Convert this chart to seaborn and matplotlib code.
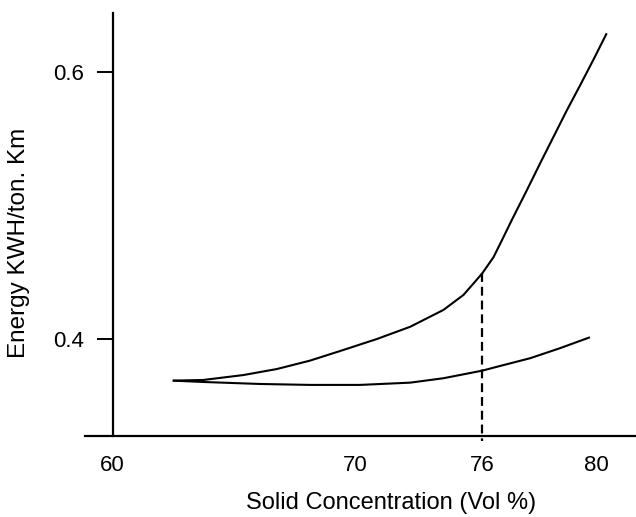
import numpy as np
import pandas as pd
import matplotlib
matplotlib.use("Agg")
import matplotlib.pyplot as plt
import seaborn as sns

# ---- data ----
upper_x = [62.48, 63.74, 65.40, 66.78, 68.15, 69.53, 71.04, 72.61, 74.17, 75.11,
           75.66, 76.00, 76.39, 76.68, 77.03, 77.56, 78.02, 78.49, 78.95, 79.42,
           79.88, 80.41]
upper_y = [0.3690, 0.3695, 0.3732, 0.3777, 0.3840, 0.3920, 0.4002, 0.4094, 0.4220,
           0.4332, 0.4432, 0.4495, 0.4615, 0.4740, 0.4894, 0.5119, 0.5319, 0.5519,
           0.5715, 0.5905, 0.6095, 0.6294]
lower_x = [62.48, 63.74, 66.09, 68.15, 70.25, 72.61, 74.17, 76.00, 76.62, 77.67,
           78.71, 79.76]
lower_y = [0.3690, 0.3680, 0.3665, 0.3658, 0.3658, 0.3675, 0.3708, 0.3765, 0.3800,
           0.3858, 0.3933, 0.4015]
marker_x = 76
marker_y = [0.4495, 0.3240]
x_ticks = [60, 70, 76, 80]
x_tick_labels = ["60", "70", "76", "80"]
y_ticks = [0.4, 0.6]
y_tick_labels = ["0.4", "0.6"]

# the original drawing's x axis is not uniform: 76 sits closer to 70
XD = [60, 70, 76, 80]
XU = [60, 70, 75.27, 80]


def fwd(x):
    x = np.asarray(x, dtype=float)
    return np.where((x >= 60) & (x <= 80), np.interp(x, XD, XU), x)


def inv(u):
    u = np.asarray(u, dtype=float)
    return np.where((u >= 60) & (u <= 80), np.interp(u, XU, XD), u)


sns.set_style("ticks")
plt.rcParams["font.family"] = ["Liberation Sans", "DejaVu Sans"]

df = pd.concat([
    pd.DataFrame({"x": upper_x, "y": upper_y, "curve": "upper"}),
    pd.DataFrame({"x": lower_x, "y": lower_y, "curve": "lower"}),
])

fig = plt.figure(figsize=(6.36, 5.17), dpi=100)
W, H = 636, 517
ax = fig.add_axes([85 / W, (H - 436) / H, (636 - 85) / W, (436 - 13) / H])
ax.set_xscale("function", functions=(fwd, inv))

sns.lineplot(data=df, x="x", y="y", units="curve", estimator=None, sort=False,
             color="black", linewidth=1.5, ax=ax, legend=False)
for ln in ax.lines:
    ln.set_solid_joinstyle("round")
    ln.set_solid_capstyle("butt")
ax.plot([marker_x, marker_x], marker_y, color="black", linewidth=1.6,
        linestyle=(0, (4, 2.2)), clip_on=False)

ax.set_xlim(58.855, 81.62)
ax.set_ylim(0.3275, 0.6446)

for s in ["top", "right"]:
    ax.spines[s].set_visible(False)
ax.spines["left"].set_position(("data", 60))
for s in ["left", "bottom"]:
    ax.spines[s].set_linewidth(1.6)
    ax.spines[s].set_color("black")

ax.set_xticks(x_ticks)
ax.set_xticklabels(x_tick_labels)
ax.set_yticks(y_ticks)
ax.set_yticklabels(y_tick_labels)
ax.tick_params(axis="x", length=0, pad=14, labelsize=16, colors="black")
ax.tick_params(axis="y", length=11.5, width=1.4, pad=9, labelsize=16,
               direction="out", colors="black")
ax.minorticks_off()

ax.set_xlabel("Solid Concentration (Vol %)", fontsize=17, color="black")
ax.set_ylabel("Energy KWH/ton. Km", fontsize=17.5, color="black")
ax.xaxis.set_label_coords((391 - 85) / 551, -(502.5 - 436) / 423)
ax.yaxis.set_label_coords(-(85 - 19) / 551, (436 - 242.5) / 423)
ax.xaxis.label.set_va("center")
ax.yaxis.label.set_va("center")

fig.savefig("out.png", dpi=100)
